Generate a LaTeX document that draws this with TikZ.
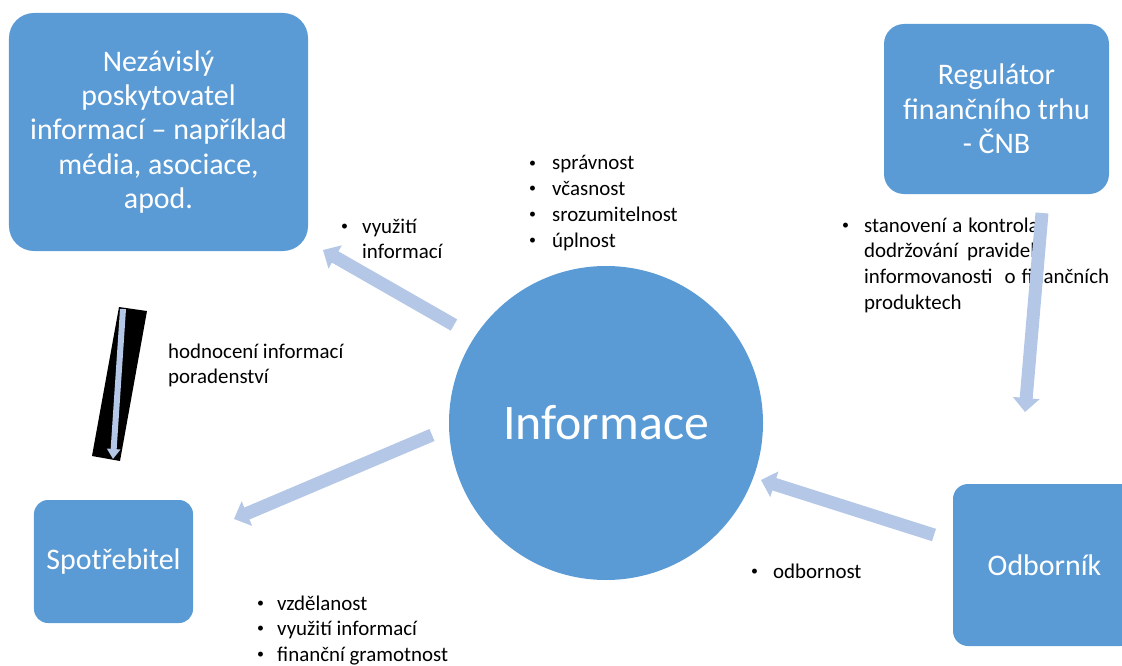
\documentclass[tikz,border=0pt]{standalone}
\usepackage{fontspec}
\setmainfont{Carlito}
\usetikzlibrary{arrows.meta}
\definecolor{boxblue}{HTML}{5B9BD5}
\definecolor{arrowblue}{HTML}{B4C7E7}
% small list bullet
\newcommand{\lbul}{\raisebox{3pt}{\fontsize{14}{26}\selectfont •}}

\begin{document}
\begin{tikzpicture}[x=1bp,y=-1bp,
  box/.style={rectangle, fill=boxblue, text=white, align=center, inner sep=0pt,
              font=\fontsize{30}{34.5}\selectfont},
  flow/.style={draw=arrowblue, line width=13bp, -{Triangle[width=26bp,length=14bp]}},
  thinflow/.style={draw=arrowblue, line width=6bp, -{Triangle[width=13bp,length=10bp]}},
  note/.style={anchor=base west, inner sep=0pt, font=\fontsize{21}{26}\selectfont},
]
\useasboundingbox (0,0) rectangle (1122,666);

% actors
\node[box, minimum width=299bp, minimum height=238bp, rounded corners=25bp]
  (provider) at (158.5,132)
  {Nezávislý\\poskytovatel\\informací – například\\média, asociace,\\apod.};
\node[box, minimum width=225bp, minimum height=170bp, rounded corners=20bp]
  (regulator) at (996.5,109) {Regulátor\\finančního trhu\\- ČNB};
\node[box, minimum width=159bp, minimum height=123bp, rounded corners=14bp]
  (consumer) at (113.5,561.5) {Spotřebitel};
\node[box, minimum width=183bp, minimum height=162bp, rounded corners=15bp]
  (expert) at (1044.5,565) {Odborník};
\node[circle, fill=boxblue, text=white, minimum size=314bp, inner sep=0pt,
      font=\fontsize{50}{60}\selectfont] (info) at (606,423) {Informace};

% annotations
\node[note] (quality) at (529,170) {\begin{tabular}[t]{@{}p{23bp}@{}l@{}}
  \lbul & správnost\\ \lbul & včasnost\\ \lbul & srozumitelnost\\ \lbul & úplnost\end{tabular}};
\node[note] (use) at (341,233) {\begin{tabular}[t]{@{}p{21bp}@{}l@{}}
  \lbul & využití\\ & informací\end{tabular}};
\node[note] (rating) at (168,358) {\begin{tabular}[t]{@{}l@{}}
  hodnocení informací\\ poradenství\end{tabular}};
\node[note] (rules) at (842,232) {\begin{tabular}[t]{@{}p{22bp}@{}l@{}}
  \lbul & stanovení\hspace{6bp}a\hspace{6bp}kontrola\\
        & dodržování\hspace{9bp}pravidel\\
        & informovanosti\hspace{12bp}o\hspace{6bp}finančních\\
        & produktech\end{tabular}};
\node[note] (expertise) at (751,578) {\begin{tabular}[t]{@{}p{22bp}@{}l@{}}
  \lbul & odbornost\end{tabular}};
\node[note] (skills) at (257,610) {\begin{tabular}[t]{@{}p{20bp}@{}l@{}}
  \lbul & vzdělanost\\ \lbul & využití informací\\ \lbul & finanční gramotnost\end{tabular}};

% arrow end points
\coordinate (a1s) at (454,325);  \coordinate (a1e) at (323,250);
\coordinate (a2s) at (432,435);  \coordinate (a2e) at (234,519);
\coordinate (a3s) at (934,535);  \coordinate (a3e) at (761,480);
\coordinate (a4s) at (1042,213); \coordinate (a4e) at (1025,412);
\coordinate (a5s) at (123,309);  \coordinate (a5e) at (113,459);

% connectors
\draw[flow] (a1s) -- (a1e);
\draw[flow] (a2s) -- (a2e);
\draw[flow] (a3s) -- (a3e);
\draw[flow] (a4s) -- (a4e);

% dark band with the evaluation arrow
\fill[black] (119,307) -- (147,311) -- (120,461) -- (92,456) -- cycle;
\draw[thinflow] (a5s) -- (a5e);
\end{tikzpicture}
\end{document}
